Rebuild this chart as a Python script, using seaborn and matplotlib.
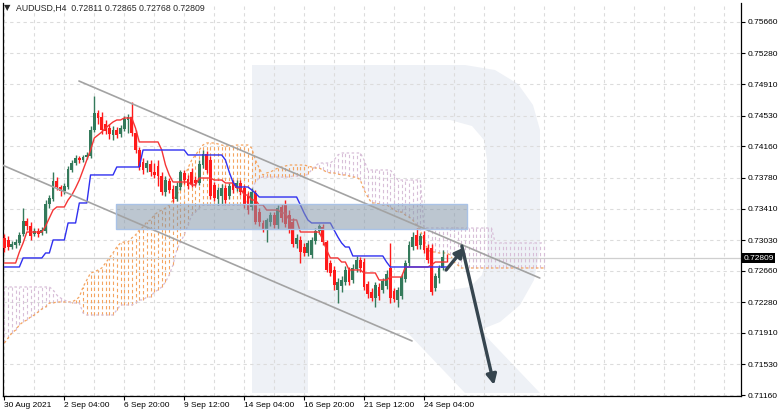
import numpy as np
import matplotlib
matplotlib.use("Agg")
import matplotlib.pyplot as plt
from matplotlib.patches import Polygon, Rectangle
from matplotlib import transforms
import seaborn as sns

# ─── Data: AUDUSD H4, prices in 1e-5 units ───────────────────────────────────
open_px = [73055, 73031, 72946, 72970, 72995, 73103, 73260, 73199, 73103, 73139,
           73115, 73139, 73465, 73525, 73742, 73670, 73622, 73670, 73875, 73959,
           74020, 73996, 74032, 74044, 74357, 74562, 74514, 74430, 74381, 74297,
           74357, 74309, 74369, 74478, 74514, 74321, 74116, 73971, 73899, 73947,
           73851, 73923, 73802, 73609, 73742, 73646, 73525, 73670, 73839, 73766,
           73851, 73754, 73718, 73935, 74068, 73996, 73694, 73525, 73561, 73658,
           73561, 73730, 73658, 73718, 73658, 73561, 73429, 73597, 73368, 73236,
           73151, 73248, 73332, 73212, 73429, 73465, 73332, 73248, 72983, 73031,
           72946, 72874, 72850, 73019, 73139, 73187, 73007, 72753, 72669, 72428,
           72476, 72524, 72669, 72548, 72681, 72789, 72765, 72500, 72403, 72331,
           72464, 72428, 72476, 72693, 72416, 72307, 72355, 72560, 72753, 72946,
           73091, 72970, 73091, 72934, 72934, 72452, 72572, 72693, 72811]
high_px = [73103, 73079, 73019, 73043, 73127, 73417, 73296, 73248, 73175, 73175,
           73187, 73513, 73573, 73851, 73790, 73694, 73718, 73923, 73996, 74056,
           74044, 74056, 74092, 74405, 74767, 74598, 74574, 74478, 74430, 74405,
           74393, 74418, 74526, 74550, 74695, 74357, 74152, 74020, 73996, 73996,
           73959, 73996, 73851, 73802, 73778, 73694, 73730, 73875, 73875, 73815,
           73899, 73802, 73996, 74116, 74104, 74044, 73730, 73670, 73706, 73694,
           73718, 73754, 73754, 73754, 73694, 73609, 73658, 73634, 73417, 73272,
           73296, 73368, 73368, 73453, 73465, 73513, 73392, 73296, 73103, 73079,
           72995, 73031, 73067, 73175, 73224, 73224, 73031, 72789, 72717, 72572,
           72596, 72717, 72705, 72741, 72838, 72826, 72814, 72536, 72452, 72524,
           72512, 72572, 72669, 72995, 72452, 72464, 72621, 72789, 73019, 73127,
           73175, 73115, 73139, 72983, 72983, 72633, 72729, 72910, 72865]
low_px = [72886, 72910, 72922, 72934, 72970, 73079, 73151, 73031, 73079, 73067,
          73091, 73115, 73417, 73501, 73634, 73561, 73585, 73646, 73851, 73935,
          73959, 73971, 74008, 74020, 74333, 74430, 74309, 74309, 74249, 74237,
          74261, 74273, 74345, 74321, 74285, 74080, 73875, 73827, 73851, 73802,
          73778, 73682, 73573, 73561, 73597, 73489, 73501, 73634, 73706, 73646,
          73670, 73682, 73694, 73899, 73839, 73525, 73501, 73453, 73465, 73477,
          73525, 73597, 73622, 73573, 73417, 73344, 73392, 73224, 73199, 73127,
          73007, 73199, 73175, 73163, 73248, 73187, 73115, 72946, 72934, 72753,
          72838, 72838, 72814, 72983, 73103, 72970, 72645, 72596, 72428, 72271,
          72403, 72488, 72488, 72512, 72645, 72645, 72428, 72331, 72295, 72223,
          72307, 72391, 72440, 72271, 72283, 72223, 72319, 72524, 72717, 72910,
          72922, 72922, 72874, 72753, 72367, 72416, 72512, 72669, 72768]
close_px = [72934, 72946, 72983, 73007, 73091, 73260, 73199, 73079, 73139, 73103,
            73151, 73465, 73537, 73742, 73670, 73622, 73682, 73887, 73959, 74020,
            73996, 74032, 74056, 74357, 74562, 74502, 74357, 74345, 74309, 74357,
            74297, 74381, 74490, 74514, 74321, 74116, 73911, 73875, 73959, 73851,
            73815, 73802, 73609, 73754, 73634, 73525, 73682, 73851, 73754, 73682,
            73706, 73718, 73947, 74068, 73875, 73561, 73537, 73634, 73658, 73513,
            73682, 73634, 73718, 73609, 73453, 73392, 73609, 73248, 73248, 73151,
            73272, 73332, 73212, 73417, 73296, 73224, 73151, 72983, 73055, 72886,
            72874, 72995, 73031, 73139, 73199, 73007, 72669, 72633, 72488, 72524,
            72548, 72669, 72524, 72693, 72789, 72693, 72464, 72379, 72331, 72488,
            72355, 72536, 72621, 72331, 72319, 72428, 72584, 72753, 72970, 73067,
            72958, 73079, 72910, 72789, 72403, 72596, 72693, 72826, 72809]

# Ichimoku: Tenkan-sen (red) and Kijun-sen (blue)
tenkan_px = [72753, 72753, 72753, 72753, 72886, 72995, 73127, 73127, 73127, 73127,
             73127, 73199, 73296, 73392, 73429, 73429, 73429, 73513, 73573, 73658,
             73754, 73875, 73996, 74116, 74261, 74297, 74333, 74381, 74418, 74454,
             74478, 74478, 74502, 74502, 74502, 74381, 74213, 74213, 74213, 74213,
             74213, 74213, 74116, 73935, 73815, 73730, 73730, 73730, 73730, 73730,
             73694, 73694, 73778, 73778, 73778, 73778, 73754, 73754, 73754, 73718,
             73718, 73718, 73658, 73658, 73573, 73573, 73513, 73513, 73453, 73453,
             73392, 73392, 73392, 73392, 73356, 73356, 73272, 73272, 73272, 73127,
             73127, 73127, 73127, 73127, 73127, 73031, 72910, 72814, 72814, 72814,
             72765, 72765, 72669, 72669, 72669, 72669, 72633, 72633, 72633, 72633,
             72548, 72548, 72548, 72584, 72584, 72584, 72584, 72705, 72705, 72705,
             72705, 72705, 72705, 72705, 72729, 72765, 72765, 72765, 72765]
kijun_px = [72705, 72705, 72705, 72705, 72705, 72814, 72814, 72814, 72814, 72814,
            72814, 72874, 72874, 73031, 73031, 73031, 73031, 73236, 73236, 73236,
            73477, 73477, 73477, 73815, 73815, 73815, 73815, 73815, 73815, 73815,
            73911, 73911, 73911, 73911, 73911, 73911, 73911, 74116, 74116, 74116,
            74116, 74116, 74116, 74116, 74116, 74116, 74116, 74116, 74116, 74056,
            74056, 74056, 74056, 74056, 74056, 74056, 74056, 74056, 74056, 73996,
            73851, 73730, 73670, 73670, 73670, 73670, 73634, 73597, 73549, 73549,
            73549, 73549, 73549, 73549, 73549, 73549, 73549, 73549, 73549, 73453,
            73356, 73272, 73236, 73236, 73236, 73236, 73236, 73236, 73151, 73067,
            72995, 72946, 72946, 72838, 72838, 72838, 72838, 72838, 72838, 72838,
            72838, 72838, 72765, 72705, 72705, 72705, 72705, 72705, 72705, 72705,
            72705, 72705, 72705, 72705, 72705, 72705, 72705, 72705, 72705]

# Senkou span A (sandy brown) and span B (thistle), already shifted forward
span_a_px = [71788, 71849, 71909, 71945, 72006, 72042, 72066, 72102, 72126, 72162,
             72199, 72223, 72271, 72271, 72283, 72283, 72283, 72283, 72283, 72307,
             72343, 72464, 72548, 72633, 72645, 72669, 72693, 72753, 72814, 72874,
             72946, 72995, 73007, 73007, 73055, 73091, 73151, 73187, 73248, 73272,
             73332, 73368, 73392, 73417, 73453, 73513, 73573, 73658, 73778, 73899,
             73996, 74056, 74116, 74176, 74201, 74201, 74201, 74188, 74176, 74164,
             74164, 74164, 74176, 74176, 74176, 74176, 74140, 73996, 73899, 73815,
             73839, 73851, 73875, 73899, 73911, 73923, 73935, 73935, 73935, 73935,
             73935, 73923, 73911, 73899, 73899, 73875, 73851, 73839, 73839, 73827,
             73815, 73815, 73802, 73790, 73790, 73754, 73634, 73549, 73477, 73477,
             73465, 73453, 73453, 73429, 73392, 73368, 73368, 73332, 73308, 73272,
             73212, 73151, 73031, 72910, 72886, 72886, 72874, 72874, 72874, 72850,
             72765, 72729, 72693, 72693, 72693, 72693, 72693, 72693, 72693, 72693,
             72693, 72693, 72693, 72693, 72693, 72693, 72693, 72693, 72693, 72693,
             72693, 72693, 72693, 72693, 72693]
span_b_px = [72464, 72464, 72464, 72464, 72464, 72464, 72464, 72464, 72464, 72464,
             72464, 72464, 72464, 72428, 72367, 72331, 72307, 72283, 72271, 72271,
             72271, 72150, 72126, 72126, 72126, 72126, 72126, 72126, 72126, 72126,
             72186, 72247, 72247, 72247, 72247, 72271, 72307, 72307, 72343, 72343,
             72403, 72428, 72464, 72524, 72609, 72729, 72910, 73007, 73091, 73212,
             73332, 73368, 73417, 73453, 73453, 73453, 73453, 73453, 73453, 73453,
             73453, 73453, 73453, 73453, 73453, 73513, 73634, 73730, 73778, 73790,
             73790, 73790, 73790, 73790, 73790, 73790, 73790, 73802, 73802, 73802,
             73802, 73827, 73875, 73923, 73959, 73959, 73959, 73959, 73996, 74056,
             74080, 74080, 74080, 74080, 74080, 74080, 73996, 73875, 73875, 73875,
             73875, 73875, 73875, 73875, 73815, 73754, 73754, 73754, 73754, 73754,
             73754, 73754, 73175, 73175, 73175, 73175, 73175, 73175, 73175, 73175,
             73175, 73175, 73175, 73175, 73175, 73175, 73175, 73175, 73175, 73175,
             73175, 72995, 72995, 72995, 72995, 72995, 72995, 72995, 72995, 72995,
             72995, 72995, 72995, 72995, 72995]

x_tick_labels = ["30 Aug 2021", "2 Sep 04:00", "6 Sep 20:00", "9 Sep 12:00",
                 "14 Sep 04:00", "16 Sep 20:00", "21 Sep 12:00", "24 Sep 04:00"]
y_tick_values = [0.75660, 0.75280, 0.74910, 0.74530, 0.74160, 0.73780, 0.73410,
                 0.73030, 0.72660, 0.72280, 0.71910, 0.71530, 0.71160]
last_price = 0.72809
title_text = "AUDUSD,H4  0.72811 0.72865 0.72768 0.72809"

# drawing objects (bar index, price)
zone_bars = [29.8, 123.5]
zone_prices = [0.73160, 0.73460]
upper_channel = ([19.9, 142.9], [0.74948, 0.72572])
lower_channel = ([-1.2, 108.8], [0.73947, 0.71813])
small_arrow = ([117.9, 122.9], [0.72669, 0.72946])
big_arrow = ([122.1, 130.7], [0.72958, 0.71282])

# ─── Prepare ──────────────────────────────────────────────────────────────────
o = np.array(open_px) / 1e5
h = np.array(high_px) / 1e5
l = np.array(low_px) / 1e5
c = np.array(close_px) / 1e5
tenkan = np.array(tenkan_px) / 1e5
kijun = np.array(kijun_px) / 1e5
span_a = np.array(span_a_px) / 1e5
span_b = np.array(span_b_px) / 1e5
bars = np.arange(len(c))
cloud_bars = np.arange(len(span_a))

sns.set_theme(style="white")
plt.rcParams["font.family"] = ["Liberation Sans", "DejaVu Sans"]

W, H = 782, 415
fig = plt.figure(figsize=(W / 100, H / 100), dpi=100)
AX_L, AX_R, AX_T, AX_B = 2.7, 741.0, 3.0, 396.0
ax = fig.add_axes([AX_L / W, 1 - AX_B / H, (AX_R - AX_L) / W, (AX_B - AX_T) / H])
ax.set_facecolor("white")
ax.set_xlim(-0.45, 196.6)
ax.set_ylim(0.71149, 0.75889)


def px(x, y):
    # pixel position -> axes fraction (only for the background logo)
    return ((x - AX_L) / (AX_R - AX_L), (AX_B - y) / (AX_B - AX_T))


# ─── Background "R" watermark ────────────────────────────────────────────────
wm_color = "#eef1f6"
outer = [(252, 65), (465, 65), (495, 70), (518, 84), (533, 105), (540, 130),
         (540, 250), (534, 280), (520, 305), (500, 322), (480, 330),
         (540, 393), (465, 393), (405, 330), (308, 330), (308, 393), (252, 393)]
inner = [(308, 120), (450, 120), (472, 126), (484, 140), (487, 160),
         (487, 255), (482, 275), (470, 287), (450, 290), (308, 290)]
ax.add_patch(Polygon([px(*p) for p in outer], closed=True, transform=ax.transAxes,
                     facecolor=wm_color, edgecolor="none", zorder=0.1))
ax.add_patch(Polygon([px(*p) for p in inner], closed=True, transform=ax.transAxes,
                     facecolor="white", edgecolor="none", zorder=0.2))

# ─── Grid ─────────────────────────────────────────────────────────────────────
ax.set_axisbelow(True)
ax.set_xticks(np.arange(0, 113, 16))
ax.set_xticks(np.arange(0, 197, 8), minor=True)
ax.set_yticks(y_tick_values)
ax.grid(True, which="both", axis="x", color="#dcdcdc", linestyle=(0, (3, 3)), linewidth=0.8)
ax.grid(True, which="major", axis="y", color="#dcdcdc", linestyle=(0, (3, 3)), linewidth=0.8)

# ─── Ichimoku cloud ──────────────────────────────────────────────────────────
sandy, thistle = "#f4a460", "#d8bfd8"
cloud_colors = [sandy if a >= b else thistle for a, b in zip(span_a, span_b)]
ax.vlines(cloud_bars, np.minimum(span_a, span_b), np.maximum(span_a, span_b),
          colors=cloud_colors, linestyles=(0, (3, 2.5)), linewidth=0.8, zorder=1)
ax.plot(cloud_bars, span_a, color=sandy, linestyle=(0, (2, 2)), linewidth=0.9, zorder=1.1)
ax.plot(cloud_bars, span_b, color=thistle, linestyle=(0, (2, 2)), linewidth=0.9, zorder=1.1)

# ─── Candles ─────────────────────────────────────────────────────────────────
bull, bear = "#347a5b", "#ff1a1a"
colors = [bull if cc >= oo else bear for oo, cc in zip(o, c)]
ax.vlines(bars, l, h, colors=colors, linewidth=1.0, zorder=3)
body = np.maximum(np.abs(c - o), 0.00008)
ax.bar(bars, body, bottom=np.minimum(o, c), width=0.75, color=colors,
       linewidth=0, zorder=3.1)

# Tenkan / Kijun
sns.lineplot(x=bars, y=tenkan, ax=ax, color="#f53535", linewidth=1.0, zorder=4)
sns.lineplot(x=bars, y=kijun, ax=ax, color="#3030f0", linewidth=1.0, zorder=4)

# current price line
ax.axhline(last_price, color="#cfcfcf", linewidth=0.9, zorder=2)

# ─── Drawing objects ────────────────────────────────────────────────────────
ax.add_patch(Rectangle((zone_bars[0], zone_prices[0]), zone_bars[1] - zone_bars[0],
                       zone_prices[1] - zone_prices[0], facecolor="#8597aa",
                       alpha=0.55, edgecolor="none", zorder=5))
ax.add_patch(Rectangle((zone_bars[0], zone_prices[0]), zone_bars[1] - zone_bars[0],
                       zone_prices[1] - zone_prices[0], facecolor="none",
                       edgecolor="#a9c2e6", linewidth=1.0, zorder=5.1))
ax.plot(*upper_channel, color="#a3a3a3", linewidth=1.2, zorder=5)
ax.plot(*lower_channel, color="#a3a3a3", linewidth=1.2, zorder=5)

arrow_color = "#36454f"
for xs, ys in (small_arrow, big_arrow):
    ax.annotate("", xy=(xs[1], ys[1]), xytext=(xs[0], ys[0]),
                arrowprops=dict(arrowstyle="-|>", color=arrow_color, lw=2.4,
                                mutation_scale=15, shrinkA=0, shrinkB=0),
                zorder=6)

# ─── Axes styling ───────────────────────────────────────────────────────────
for side in ("left", "right", "bottom"):
    ax.spines[side].set_visible(True)
    ax.spines[side].set_color("black")
    ax.spines[side].set_linewidth(0.9)
ax.spines["top"].set_visible(False)

ax.yaxis.tick_right()
ax.set_yticklabels([f"{v:.5f}" for v in y_tick_values])
ax.set_xticklabels(x_tick_labels)
ax.tick_params(axis="y", which="major", right=True, left=False, length=3, width=0.8,
               pad=2, labelsize=6, colors="black")
ax.tick_params(axis="x", which="major", bottom=True, length=3, width=0.8, pad=1.5,
               labelsize=6, colors="black")
ax.tick_params(axis="x", which="minor", length=0)
for lab in ax.get_xticklabels():
    lab.set_horizontalalignment("left")
ax.set_xlabel("")
ax.set_ylabel("")

# last price tag on the price scale
trans = transforms.blended_transform_factory(ax.transAxes, ax.transData)
ax.text(1.003, last_price, f"{last_price:.5f}", transform=trans, ha="left", va="center",
        fontsize=6, color="white", clip_on=False, zorder=10,
        bbox=dict(facecolor="black", edgecolor="none", pad=1.0))

# symbol header
fig.text(4 / W, 1 - 8 / H, "▼", fontsize=6, family="DejaVu Sans", va="center", ha="left")
fig.text(16 / W, 1 - 8 / H, title_text, fontsize=6.3, va="center", ha="left")

fig.savefig("out.png", dpi=100)
plt.close(fig)
